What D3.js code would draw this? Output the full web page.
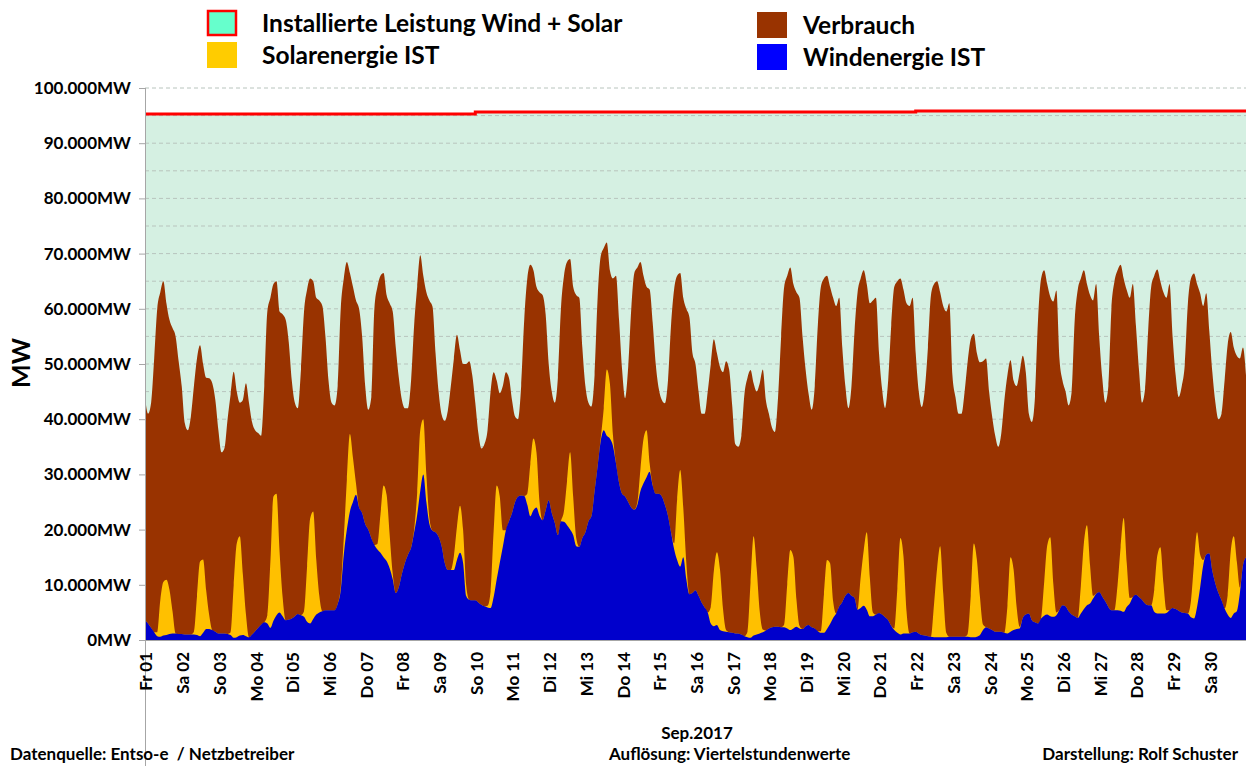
<!DOCTYPE html>
<html>
<head>
<meta charset="utf-8">
<title>Wind, Solar, Verbrauch Sep. 2017</title>
<script src="https://cdn.jsdelivr.net/npm/d3@7"></script>
<style>
  body { margin: 0; background: #fff; }
  svg text { font-family: Lato, "Open Sans", "Noto Sans", sans-serif; font-weight: bold; fill: #000; }
</style>
</head>
<body>
<div id="chart"></div>
<script>
// values, GW, one sample every 2 hours (12 per day), last value = 01.10. 00:00
const verbrauch = [
  44, 41, 43, 51, 60, 63, 65, 61, 58, 56.5, 55, 50.5,          // Fr 01
  46, 39.3, 38, 40.5, 46, 51, 53.4, 50, 47.5, 47.4, 46.5, 43.5, // Sa 02
  38, 34, 34.8, 40, 44.5, 48.6, 45, 43, 43.5, 46.5, 43, 39.5,   // So 03
  38, 37.5, 37, 46, 59.5, 62, 64.5, 65, 59.5, 59, 58, 54,       // Mo 04
  47, 43, 42, 49, 59.5, 63.5, 65.5, 65, 62, 61.5, 60.5, 55,     // Di 05
  47, 43, 42.5, 46, 60, 65.5, 68.5, 66.5, 64, 61.5, 60, 55,     // Mi 06
  46, 41.7, 44, 60, 64, 66, 66.5, 62.5, 61, 59.5, 53, 47.5,     // Do 07
  43.5, 42, 42, 47, 57, 64, 69.7, 66, 63, 61.5, 60.4, 52,       // Fr 08
  45, 40.8, 39.7, 41.5, 46, 51, 55.3, 52.5, 50, 50, 50.5, 48,   // Sa 09
  43, 37.5, 34.7, 35.5, 38, 45, 48.5, 47, 44.7, 46, 48.5, 47.5, // So 10
  43.5, 40.5, 40, 46, 58, 65.5, 68, 67, 64, 63, 62.5, 59,       // Mo 11
  50, 45, 43, 47.5, 60, 66, 68.5, 69, 64, 62.5, 62, 53,         // Di 12
  46, 43, 42.3, 48, 62, 69.5, 71, 72, 67, 65.5, 66, 58,         // Mi 13
  49, 43.8, 49.5, 60, 66.5, 67.5, 68.5, 66, 64, 63.5, 57.5, 50, // Do 14
  45.5, 43.5, 42.9, 47, 57, 63.5, 66, 66.5, 62, 60, 58.5, 52,   // Fr 15
  50, 45, 41, 41, 45, 50, 54.5, 52, 49.5, 48.5, 50.5, 49,       // Sa 16
  42.5, 35.5, 35, 37, 44.5, 47.5, 48.9, 46.5, 45, 46.5, 49, 43.5, // So 17
  41, 38.5, 37.7, 44, 55, 64, 66, 67.5, 64.5, 63, 62, 55,       // Mo 18
  49, 44.5, 41.7, 46, 57, 64, 65.5, 66, 64, 62, 60.5, 62,       // Di 19
  53, 46, 42, 46, 56, 63, 65.5, 67, 64.5, 61, 61.5, 62,         // Mi 20
  52, 45.5, 42, 47, 57, 64, 65, 65.5, 63.5, 61, 60.5, 62,       // Do 21
  52, 45, 42.2, 45.5, 53, 62.5, 64.5, 65, 63, 60.5, 59.5, 61,   // Fr 22
  48, 44, 41, 41, 45, 50.5, 54.5, 55.5, 52, 50.3, 50.5, 51,     // Sa 23
  45, 40.5, 37, 35, 37.5, 43.5, 48, 50.7, 47, 46, 48.5, 51.5,   // So 24
  48.5, 41, 39.5, 44, 58, 65.5, 67, 64.5, 62.2, 61.3, 63.3, 51, // Mo 25
  47, 45, 42.5, 45, 58, 63.5, 65.5, 67, 64.5, 62.5, 61.5, 64.5, // Di 26
  55, 47.5, 43, 46, 60, 65, 67, 68, 65.5, 63.4, 62, 64.5,       // Mi 27
  57, 49, 43, 45.5, 56, 64, 66, 67.1, 65, 63, 62, 64.5,         // Do 28
  55, 48, 44, 46, 50, 61, 65.5, 66.4, 64.5, 62.8, 60.5, 62.8,   // Fr 29
  56, 48.5, 43, 40, 41, 47, 53.5, 55.8, 53, 51.5, 51, 53,       // Sa 30
  48
];

const windIst = [
  3.6, 3.0, 2.2, 1.4, 0.7, 0.6, 0.8, 0.9, 1.1, 1.2, 1.2, 1.1,
  1.1, 1.0, 1.0, 1.0, 1.0, 0.9, 0.7, 1.3, 2.0, 2.0, 1.8, 1.5,
  1.2, 1.2, 1.2, 1.1, 0.9, 0.4, 0.5, 0.8, 0.9, 0.7, 0.5, 1.0,
  1.6, 2.2, 2.8, 3.2, 3.0, 2.2, 3.5, 4.5, 5.0, 4.3, 3.6, 3.7,
  3.9, 4.3, 4.7, 4.5, 4.2, 3.3, 3.0, 3.8, 4.6, 5.0, 5.2, 5.4,
  5.4, 5.4, 5.4, 6.5, 9, 15.5, 20, 23.3, 25, 26.3, 24, 23,
  21, 20, 18.5, 17.2, 16.4, 15.8, 15, 14.3, 13, 11, 8.5, 9.6,
  12, 14, 15.5, 16.7, 19.5, 22.7, 27, 30, 25, 21, 19.8, 19.5,
  18.7, 17, 14, 12.7, 12.7, 12.7, 14.5, 15.8, 14, 8, 7.3, 7.2,
  7.2, 6.8, 6.4, 6.1, 5.9, 5.8, 7.8, 11, 14, 16.9, 19.9, 21.5,
  23, 25, 26, 26.2, 26.1, 24.5, 22.4, 23.5, 24, 22.5, 21.7, 23.5,
  25.3, 23, 21.2, 19, 21.5, 21.4, 20.8, 20, 19, 17, 16.9, 18.5,
  19.5, 21.5, 22.5, 27, 31.5, 36, 38, 37, 36.5, 35.2, 32, 28.5,
  26.5, 26, 25, 24, 23.6, 24.5, 27, 28.4, 29.5, 30.5, 28, 26.5,
  26.5, 26, 24.5, 22.5, 19.5, 16.5, 14.5, 13.3, 15, 11, 8.3, 8.5,
  9, 8, 6.8, 5.9, 5.0, 3, 2.5, 2.7, 1.8, 1.6, 1.5, 1.4,
  1.3, 1.2, 1.2, 1.0, 0.7, 0.5, 0.4, 0.8, 1.0, 1.2, 1.4, 1.7,
  2.1, 2.3, 2.4, 2.4, 2.3, 2.3, 2.1, 1.8, 2.1, 2.4, 2.1, 2.0,
  2.5, 2.7, 2.3, 2.1, 1.6, 1.3, 1.3, 2.0, 2.9, 4.0, 4.8, 6.1,
  6.9, 8.0, 8.5, 8.0, 7.6, 5.5, 5.8, 6.2, 5.5, 4.3, 4.3, 4.6,
  4.9, 4.6, 4.1, 3.6, 2.6, 1.8, 1.3, 1.0, 1.2, 1.2, 1.2, 1.4,
  1.5, 1.2, 0.9, 0.8, 0.7, 0.6, 0.5, 0.5, 0.5, 0.5, 0.5, 0.6,
  0.6, 0.6, 0.6, 0.6, 0.6, 0.6, 0.5, 0.5, 0.6, 0.9, 1.8, 2.3,
  2.1, 1.8, 1.5, 1.5, 1.5, 1.3, 1.2, 1.5, 1.8, 2.0, 2.1, 4.0,
  4.6, 4.8, 3.6, 3.2, 3.0, 3.9, 4.4, 4.6, 4.3, 4.2, 4.5, 5.5,
  6.3, 6.1, 5.2, 4.6, 4.3, 4.0, 4.8, 5.6, 6.3, 6.6, 7.5, 8.4,
  8.7, 7.9, 7.0, 6.0, 5.4, 5.4, 5.4, 5.3, 5.1, 6.0, 6.6, 7.8,
  8.2, 7.8, 7.3, 6.6, 6.3, 6.3, 5.1, 4.8, 4.8, 4.8, 4.9, 5.4,
  5.8, 5.6, 5.3, 5.0, 4.9, 4.8, 4.1, 3.9, 6.0, 9.5, 13.5, 15.5,
  15.7, 12.5, 10.2, 8.5, 7.2, 5.7, 4.6, 4.0, 4.8, 5.2, 8.5, 13.5,
  15
];

const solarIst = [
  0, 0, 0, 0, 0.7, 6.6, 9.7, 10, 8, 4, 0, 0,
  0, 0, 0, 0, 0.5, 7, 13.5, 13.3, 7, 2.5, 0, 0,
  0, 0, 0, 0, 0.5, 9.5, 17, 18, 11, 4, 0, 0,
  0, 0, 0, 0, 1.5, 12, 22.5, 22, 11, 3.5, 0, 0,
  0, 0, 0, 0, 1, 10, 19, 19.5, 10, 3, 0, 0,
  0, 0, 0, 0, 0.5, 3, 9, 14, 8, 2, 0, 0,
  0, 0, 0, 0, 1, 7, 13, 12, 6, 1, 0, 0,
  0, 0, 0, 0, 0.5, 4, 11, 10, 5, 1, 0, 0,
  0, 0, 0, 0, 0, 2.5, 6, 8.5, 6, 2, 0, 0,
  0, 0, 0, 0, 0.3, 3, 12, 17, 12, 3, 0, 0,
  0, 0, 0, 0, 0, 2, 9.5, 13, 10, 2.5, 0, 0,
  0, 0, 0, 0, 0, 2, 8, 14, 7, 1.5, 0, 0,
  0, 0, 0, 0, 0, 0.5, 4, 12, 10, 2, 0, 0,
  0, 0, 0, 0, 0, 0.5, 4, 8, 8.5, 1.5, 0, 0,
  0, 0, 0, 0, 0, 1, 11, 17.5, 9, 3, 0, 0,
  0, 0, 0, 0, 0, 3, 10, 13.2, 11, 4, 0.3, 0,
  0, 0, 0, 0, 0, 1, 10, 18, 12, 4, 0.5, 0,
  0, 0, 0, 0, 0, 0.5, 8, 14.5, 13, 5, 0.5, 0,
  0, 0, 0, 0, 0, 0.3, 7, 12.5, 11, 3, 0, 0,
  0, 0, 0, 0, 0, 0, 5.5, 10, 14, 7, 0.7, 0,
  0, 0, 0, 0, 0, 0.3, 8, 17.5, 14, 4, 0, 0,
  0, 0, 0, 0, 0, 0, 6, 12.5, 16.5, 8, 0.8, 0,
  0, 0, 0, 0, 0, 0.5, 7.5, 17, 14, 7, 1, 0,
  0, 0, 0, 0, 0, 0, 5, 13.5, 11, 4, 0.3, 0,
  0, 0, 0, 0, 0, 0, 6, 12.5, 14.3, 6, 0.5, 0,
  0, 0, 0, 0, 0, 0, 5, 12, 14.5, 7, 0.5, 0,
  0, 0, 0, 0, 0, 0, 4.5, 11.5, 17, 8, 1, 0,
  0, 0, 0, 0, 0, 0, 4, 10.5, 12, 5.5, 0.5, 0,
  0, 0, 0, 0, 0, 0, 3, 10, 13.5, 6, 1, 0,
  0, 0, 0, 0, 0, 0, 3.5, 12, 14, 9, 1, 0,
  0
];

// installed wind + solar capacity (MW), steps at hour of month
const kapazitaetStunde = [0, 216, 504, 720];
const kapazitaetMW = [95300, 95650, 95850, 95850];

const tageLabels = ["Fr 01", "Sa 02", "So 03", "Mo 04", "Di 05", "Mi 06", "Do 07", "Fr 08", "Sa 09", "So 10",
  "Mo 11", "Di 12", "Mi 13", "Do 14", "Fr 15", "Sa 16", "So 17", "Mo 18", "Di 19", "Mi 20",
  "Do 21", "Fr 22", "Sa 23", "So 24", "Mo 25", "Di 26", "Mi 27", "Do 28", "Fr 29", "Sa 30"];

const legende = [
  { name: "Installierte Leistung Wind + Solar", fill: "#66ffcc", stroke: "#ff0000" },
  { name: "Solarenergie IST", fill: "#ffcc00", stroke: null },
  { name: "Verbrauch", fill: "#993300", stroke: null },
  { name: "Windenergie IST", fill: "#0000ff", stroke: null }
];

const width = 1246, height = 766;
const plot = { left: 145, right: 1246, top: 88, bottom: 640 };

const svg = d3.select("#chart").append("svg")
  .attr("width", width).attr("height", height);

const x = d3.scaleLinear().domain([0, 720]).range([plot.left, plot.right]);
const y = d3.scaleLinear().domain([0, 100000]).range([plot.bottom, plot.top]);

const rows = verbrauch.map((v, i) => ({
  h: i * 2,
  load: v * 1000,
  wind: windIst[i] * 1000,
  solar: solarIst[i] * 1000
}));

const de = d3.formatLocale({ decimal: ",", thousands: ".", grouping: [3], currency: ["", " €"] });
const fmt = de.format(",d");

// capacity area
const kap = kapazitaetStunde.map((h, i) => ({ h: h, v: kapazitaetMW[i] }));
svg.append("path")
  .datum(kap)
  .attr("fill", "#d5f0e2")
  .attr("d", d3.area().curve(d3.curveStepAfter).x(d => x(d.h)).y0(y(0)).y1(d => y(d.v)));

// dashed gridlines every 5.000 MW
svg.append("g")
  .selectAll("line")
  .data(d3.range(5000, 100001, 5000))
  .enter().append("line")
    .attr("x1", plot.left).attr("x2", plot.right)
    .attr("y1", d => y(d)).attr("y2", d => y(d))
    .attr("stroke", "#b8c4bd")
    .attr("stroke-width", 1)
    .attr("stroke-dasharray", "4,3");

const curve = d3.curveMonotoneX;

svg.append("path").datum(rows)
  .attr("fill", "#993300")
  .attr("d", d3.area().curve(curve).x(d => x(d.h)).y0(y(0)).y1(d => y(d.load)));

svg.append("path").datum(rows)
  .attr("fill", "#ffc000")
  .attr("d", d3.area().curve(curve).x(d => x(d.h)).y0(y(0)).y1(d => y(d.wind + d.solar)));

svg.append("path").datum(rows)
  .attr("fill", "#0000cc")
  .attr("d", d3.area().curve(curve).x(d => x(d.h)).y0(y(0)).y1(d => y(d.wind)));

// red capacity line
svg.append("path").datum(kap)
  .attr("fill", "none")
  .attr("stroke", "#ff0000")
  .attr("stroke-width", 3)
  .attr("d", d3.line().curve(d3.curveStepAfter).x(d => x(d.h)).y(d => y(d.v)));

// y axis
const yAxis = svg.append("g")
  .attr("transform", "translate(" + plot.left + ",0)")
  .call(d3.axisLeft(y).tickValues(d3.range(0, 100001, 10000)).tickSize(6).tickPadding(8)
    .tickFormat(d => fmt(d) + "MW"));
yAxis.select(".domain").remove();
yAxis.selectAll(".tick line").attr("stroke", "#a6a6a6");
yAxis.selectAll(".tick text").style("font-size", "17px").attr("fill", "#000");

svg.append("line")
  .attr("x1", plot.left + 0.5).attr("x2", plot.left + 0.5)
  .attr("y1", plot.top).attr("y2", height)
  .attr("stroke", "#a6a6a6");

// x axis
svg.append("line")
  .attr("x1", plot.left).attr("x2", plot.right)
  .attr("y1", plot.bottom + 0.5).attr("y2", plot.bottom + 0.5)
  .attr("stroke", "#a6a6a6");

svg.append("g")
  .selectAll("text")
  .data(tageLabels)
  .enter().append("text")
    .attr("transform", (d, i) => "translate(" + (x(i * 24) + 1.5) + "," + (plot.bottom + 12) + ") rotate(-90)")
    .attr("text-anchor", "end")
    .attr("dy", "0.35em")
    .style("font-size", "17px")
    .text(d => d);

// axis title
svg.append("text")
  .attr("transform", "translate(30,363) rotate(-90)")
  .attr("text-anchor", "middle")
  .style("font-size", "25px")
  .text("MW");

// legend
const legPos = [[207, 10, 262], [207, 42, 262], [757, 12, 803], [757, 44, 803]];
legende.forEach((d, i) => {
  const p = legPos[i];
  svg.append("rect")
    .attr("x", p[0] + (d.stroke ? 1 : 0)).attr("y", p[1] + (d.stroke ? 1 : 0))
    .attr("width", d.stroke ? 28 : 30).attr("height", d.stroke ? 24 : 26)
    .attr("fill", d.fill)
    .attr("stroke", d.stroke || "none")
    .attr("stroke-width", 2.5);
  svg.append("text")
    .attr("x", p[2]).attr("y", p[1] + 22)
    .style("font-size", "24.5px")
    .text(d.name);
});

// footer
svg.append("text").attr("x", 697).attr("y", 739).attr("text-anchor", "middle")
  .style("font-size", "17px").text("Sep.2017");
svg.append("text").attr("x", 10).attr("y", 760)
  .style("font-size", "17px").attr("xml:space", "preserve").text("Datenquelle: Entso-e  / Netzbetreiber");
svg.append("text").attr("x", 609).attr("y", 760)
  .style("font-size", "17px").text("Auflösung: Viertelstundenwerte");
svg.append("text").attr("x", 1238).attr("y", 760).attr("text-anchor", "end")
  .style("font-size", "17px").text("Darstellung: Rolf Schuster");
</script>
</body>
</html>
